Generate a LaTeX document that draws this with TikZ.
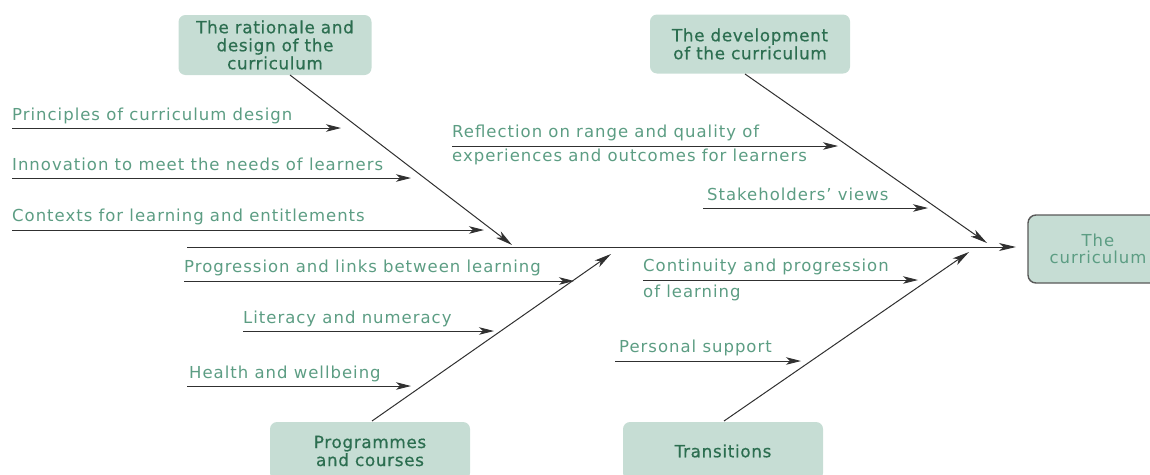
\documentclass[tikz,border=0pt]{standalone}
\usepackage{fontspec}
\setmainfont{DejaVu Sans}
\newfontfamily\labfont[LetterSpace=6]{DejaVu Sans}
\newfontfamily\catfont[LetterSpace=4,FakeBold=0.6]{DejaVu Sans}
\usetikzlibrary{arrows.meta}
\definecolor{boxfill}{HTML}{C6DDD4}
\definecolor{boxtext}{HTML}{2C6E50}
\definecolor{labtext}{HTML}{5C9D83}
\definecolor{linecol}{HTML}{303030}
\tikzset{
  cat/.style={fill=boxfill, rounded corners=7pt, text=boxtext, align=center, font=\catfont\fontsize{16.8}{18}\selectfont, minimum width=193pt, minimum height=60pt, inner sep=0pt},
  lab/.style={text=labtext, anchor=base west, inner sep=0pt, font=\labfont\fontsize{16.5}{22}\selectfont},
  arr/.style={-{Stealth[length=15pt,width=7.5pt,inset=4pt]}, line width=0.9pt, draw=linecol},
  bone/.style={-{Stealth[length=17pt,width=8pt,inset=4.5pt]}, line width=1pt, draw=linecol},
}
\begin{document}
\begin{tikzpicture}[x=1pt,y=-1pt]
\useasboundingbox (0,0) rectangle (1150,474);
% category boxes
\node[cat] (rat) at (275,45) {The rationale and\\design of the\\curriculum};
\node[cat, minimum width=200pt, minimum height=59pt] (dev) at (750,44) {The development\\of the curriculum};
\node[cat, minimum width=200pt, minimum height=58pt] (prog) at (370,451) {Programmes\\and courses};
\node[cat, minimum width=200pt, minimum height=58pt] (tran) at (723,451) {Transitions};
\node[fill=boxfill, draw=black!65, line width=1.4pt, rounded corners=8pt, minimum width=136pt, minimum height=68pt, text=labtext, align=center, font=\labfont\fontsize{16.5}{17}\selectfont, inner sep=0pt] (cur) at (1096,249) {\hspace*{4pt}The\\\hspace*{4pt}curriculum};
% spine
\coordinate (s0) at (187,247);
\coordinate (s1) at (1016,247);
\draw[bone] (s0) -- (s1);
% bones
\coordinate (r1) at (290,75);  \coordinate (r2) at (512,245);
\coordinate (d1) at (745,74);  \coordinate (d2) at (987,243);
\coordinate (p1) at (372,421); \coordinate (p2) at (611,254);
\coordinate (t1) at (724,421); \coordinate (t2) at (969,252);
\draw[bone] (r1) -- (r2);
\draw[bone] (d1) -- (d2);
\draw[bone] (p1) -- (p2);
\draw[bone] (t1) -- (t2);
% sub causes
\coordinate (a1s) at (12,128);  \coordinate (a1e) at (341,128);
\coordinate (a2s) at (12,178);  \coordinate (a2e) at (411,178);
\coordinate (a3s) at (12,230);  \coordinate (a3e) at (484,230);
\coordinate (b1s) at (184,281); \coordinate (b1e) at (574,281);
\coordinate (b2s) at (243,331); \coordinate (b2e) at (494,331);
\coordinate (b3s) at (187,386); \coordinate (b3e) at (411,386);
\coordinate (c1s) at (452,146); \coordinate (c1e) at (838,146);
\coordinate (c2s) at (703,208); \coordinate (c2e) at (928,208);
\coordinate (e1s) at (643,280); \coordinate (e1e) at (918,280);
\coordinate (e2s) at (615,361); \coordinate (e2e) at (801,361);
\foreach \n in {a1,a2,a3,b1,b2,b3,c1,c2,e1,e2} \draw[arr] (\n s) -- (\n e);
% labels
\node[lab] (la1) at (12,120) {Principles of curriculum design};
\node[lab] (la2) at (12,170) {Innovation to meet the needs of learners};
\node[lab] (la3) at (12,221) {Contexts for learning and entitlements};
\node[lab] (lb1) at (184,272) {Progression and links between learning};
\node[lab] (lb2) at (243,323) {Literacy and numeracy};
\node[lab] (lb3) at (189,378) {Health and wellbeing};
\node[lab] (lc1) at (452,137) {Reflection on range and quality of};
\node[lab] (lc1b) at (452,161) {experiences and outcomes for learners};
\node[lab] (lc2) at (707,200) {Stakeholders’ views};
\node[lab] (le1) at (643,271) {Continuity and progression};
\node[lab] (le1b) at (643,297) {of learning};
\node[lab] (le2) at (619,352) {Personal support};
\end{tikzpicture}
\end{document}
